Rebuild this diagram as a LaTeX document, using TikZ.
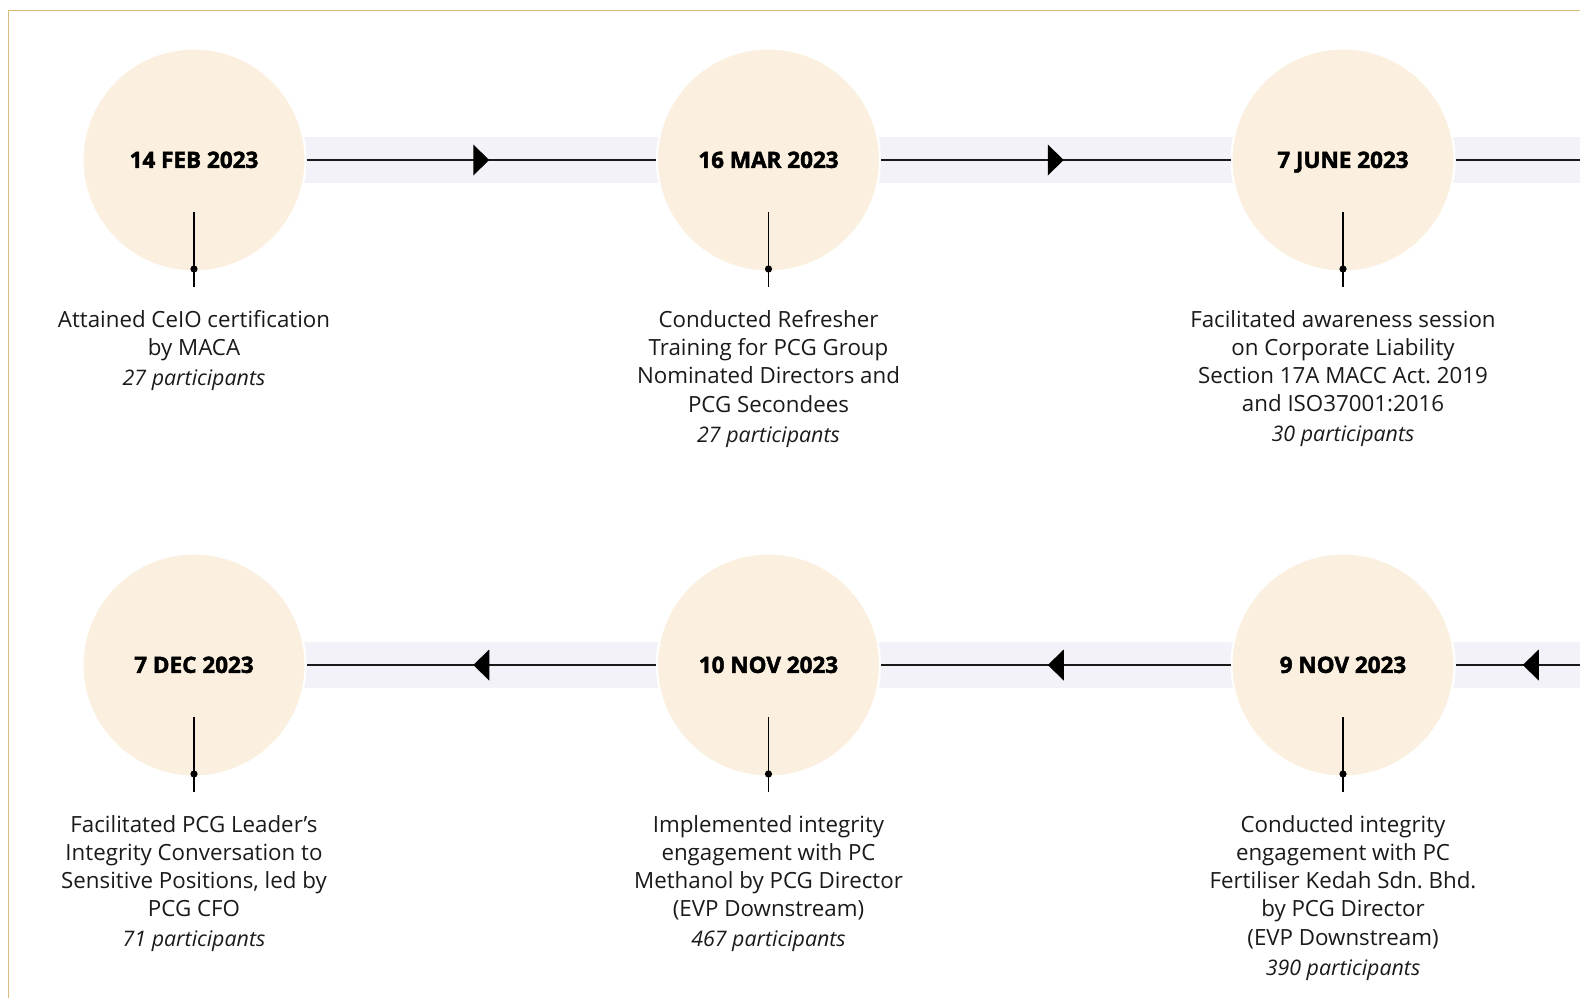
\documentclass[tikz,border=0pt]{standalone}
\usepackage{fontspec}
\setmainfont{Open Sans}
\newfontfamily\datefont{Open Sans}[BoldFeatures={FakeBold=2}]
\usetikzlibrary{decorations.markings}
\definecolor{circfill}{RGB}{251,240,223}
\definecolor{bandfill}{RGB}{243,242,248}
\definecolor{gold}{RGB}{215,190,122}
\definecolor{ink}{RGB}{26,26,26}
\frenchspacing
\tikzset{
  circ/.style={circle, fill=circfill, draw=white, line width=2pt, minimum size=223pt, inner sep=0pt,
    text height=15.8pt, text depth=0pt,
    font=\datefont\bfseries\fontsize{22.5}{24}\selectfont, text=black},
  conn/.style={draw=ink, line width=1.5pt},
  midarrow/.style={postaction={decorate}, decoration={markings,
    mark=at position 0.5 with {\fill[black] (-8pt,-15.5pt) -- (8pt,0pt) -- (-8pt,15.5pt) -- cycle;}}},
  stemline/.style={draw=black, line width=1.3pt},
  stemdot/.style={fill=black},
  desc/.style={anchor=north, align=center, inner sep=0pt, text=ink, font=\frenchspacing\fontsize{22.3}{28.2}\selectfont},
  band/.style={fill=bandfill},
  frame/.style={draw=gold, line width=1.5pt}
}
\newcommand{\parts}[1]{\\[1.8pt]{\fontsize{21.4}{28.2}\selectfont\textit{#1}}}
\begin{document}
\begin{tikzpicture}[x=1pt,y=-1pt]
\useasboundingbox (0,0) rectangle (1580,998);
\fill[white] (0,0) rectangle (1580,998);
% frame
\draw[frame] (1580,10.7) -- (8.3,10.7) -- (8.3,998);
% bands
\fill[band] (194,137) rectangle (1580,183);
\fill[band] (194,642) rectangle (1580,688);
% circles
\node[circ] (c1) at (194,160) {14 FEB 2023};
\node[circ] (c2) at (768.5,160) {16 MAR 2023};
\node[circ] (c3) at (1343,160) {7 JUNE 2023};
\node[circ] (c4) at (194,665) {7 DEC 2023};
\node[circ] (c5) at (768.5,665) {10 NOV 2023};
\node[circ] (c6) at (1343,665) {9 NOV 2023};
\coordinate (e1) at (1580,160);
\coordinate (e2) at (1606,665);
% connectors
\draw[conn,midarrow] (c1) -- (c2);
\draw[conn,midarrow] (c2) -- (c3);
\draw[conn] (c3) -- (e1);
\draw[conn,midarrow] (c5) -- (c4);
\draw[conn,midarrow] (c6) -- (c5);
\draw[conn,midarrow] (e2) -- (c6);
% stems
\foreach \c in {c1,c2,c3,c4,c5,c6}{
  \draw[stemline] ([yshift=-52pt]\c.center) -- ([yshift=-127pt]\c.center);
  \fill[stemdot] ([yshift=-109pt]\c.center) circle (3.6pt);
}
% descriptions
\node[desc] (t1) at (194,310.2) {Attained CeIO certification\\by MACA\parts{27 participants}};
\node[desc] (t2) at (768.5,310.2) {Conducted Refresher\\Training for PCG Group\\Nominated Directors and\\PCG Secondees\parts{27 participants}};
\node[desc] (t3) at (1343,310.2) {Facilitated awareness session\\on Corporate Liability\\Section 17A MACC Act. 2019\\and ISO37001:2016\parts{30 participants}};
\node[desc] (t4) at (194,815.2) {Facilitated PCG Leader's\\Integrity Conversation to\\Sensitive Positions, led by\\PCG CFO\parts{71 participants}};
\node[desc] (t5) at (768.5,815.2) {Implemented integrity\\engagement with PC\\Methanol by PCG Director\\(EVP Downstream)\parts{467 participants}};
\node[desc] (t6) at (1343,815.2) {Conducted integrity\\engagement with PC\\Fertiliser Kedah Sdn. Bhd.\\by PCG Director\\(EVP Downstream)\parts{390 participants}};
\end{tikzpicture}
\end{document}
